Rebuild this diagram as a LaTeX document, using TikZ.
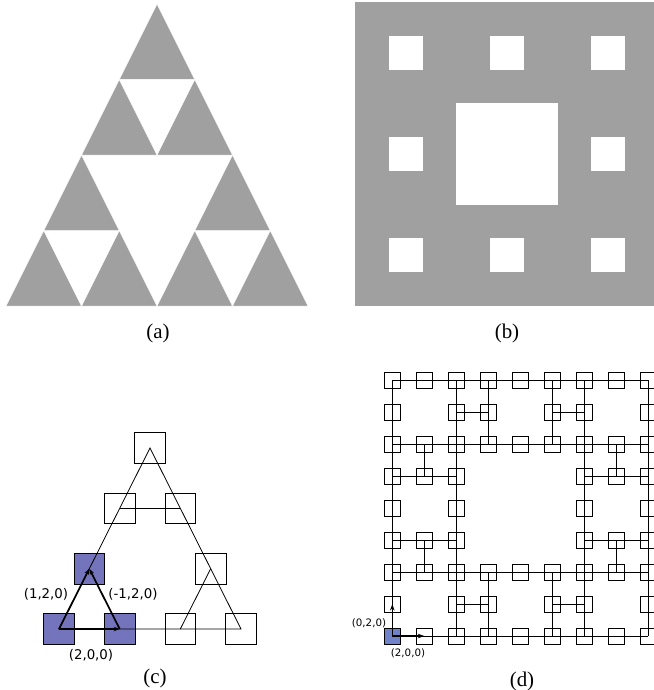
\documentclass[tikz,border=0pt]{standalone}
\usepackage{fontspec}
\setmainfont{Liberation Serif}
\newfontfamily\tagfont{DejaVu Sans}
\usepackage{xcolor}
\usepackage{tikz}
\usetikzlibrary{arrows.meta}

\definecolor{fractalgray}{RGB}{160,160,160}
\definecolor{seedblue}{RGB}{116,116,188}
\definecolor{seedlightblue}{RGB}{112,130,200}

\begin{document}
\begin{tikzpicture}[
  x=1bp, y=-1bp,
  gasket/.style={fill=fractalgray, draw=white, line width=0.5bp},
  carpet/.style={fill=fractalgray},
  hole/.style={fill=white},
  caption/.style={font=\fontsize{21}{24}\selectfont},
  cell/.style={draw, line width=0.9bp, minimum size=30.5bp, inner sep=0pt, outer sep=0pt},
  dcell/.style={draw, line width=0.9bp, minimum size=16bp, inner sep=0pt, outer sep=0pt},
  link/.style={line width=0.8bp},
  move/.style={line width=1.7bp, -{Stealth[length=6bp, width=4.5bp]}},
  dmove/.style={line width=1.2bp, -{Stealth[length=6.5bp, width=4.5bp]}},
  ctag/.style={font=\tagfont\fontsize{13.4}{16}\selectfont, inner sep=1pt},
  dtag/.style={font=\tagfont\fontsize{10.3}{12}\selectfont, inner sep=1pt}
]
\useasboundingbox (0,0) rectangle (654,690);

% (a) gasket
\foreach \a/\b in {0/0,1/0,0/1,2/0,3/0,2/1,0/2,1/2,0/3}
  \filldraw[gasket] ({6+75.5*\a+37.75*\b},{306-75.5*\b}) -- ++(75.5,0) -- ++(-37.75,-75.5) -- cycle;
\node[caption] (cap-a) at (158,333) {(a)};

% (b) carpet
\fill[carpet] (355,2) rectangle (659,306);
\foreach \i in {0,1,2}
  \foreach \j in {0,1,2}
    \fill[hole] ({355+33.78*(1+3*\i)},{2+33.78*(1+3*\j)}) rectangle ++(33.78,33.78);
\fill[hole] (456.3,103.3) rectangle (557.7,204.7);
\node[caption] (cap-b) at (507,333) {(b)};

% (c) gasket graph
\node[cell, fill=seedblue] (t00) at (59,629) {};
\node[cell, fill=seedblue] (t20) at (119.7,629) {};
\node[cell] (t40) at (180.3,629) {};
\node[cell] (t60) at (241,629) {};
\node[cell, fill=seedblue] (t11) at (89.3,568.7) {};
\node[cell] (t51) at (210.7,568.7) {};
\node[cell] (t22) at (119.7,508.3) {};
\node[cell] (t42) at (180.3,508.3) {};
\node[cell] (t33) at (150,448) {};
\draw[link] (t00.center) -- (t33.center) -- (t60.center) -- cycle;
\draw[link] (t22.center) -- (t42.center);
\draw[link] (t40.center) -- (t51.center);
\draw[move] (t00.center) -- (t20.center);
\draw[move] (t00.center) -- (t11.center);
\draw[move] (t20.center) -- (t11.center);
\node[ctag] (tag-c1) at (46,594) {(1,2,0)};
\node[ctag] (tag-c2) at (133,594) {(-1,2,0)};
\node[ctag] (tag-c3) at (91,655) {(2,0,0)};
\node[caption] (cap-c) at (155,678) {(c)};

% (d) carpet graph
\foreach \i in {0,...,8}
  \foreach \j in {0,...,8} {
    \pgfmathtruncatemacro\holeflag{(mod(\i,3)==1 && mod(\j,3)==1) || (floor(\i/3)==1 && floor(\j/3)==1)}
    \pgfmathtruncatemacro\seedflag{(\i==0 && \j==8)}
    \ifnum\holeflag=0
      \ifnum\seedflag=1
        \node[dcell, fill=seedlightblue] (d-\i-\j) at ({392.3+32*\i},{380+32*\j}) {};
      \else
        \node[dcell] (d-\i-\j) at ({392.3+32*\i},{380+32*\j}) {};
      \fi
    \fi
  }
\foreach \r in {0,2,6,8} {
  \draw[link] (d-0-\r.center) -- (d-8-\r.center);
  \draw[link] (d-\r-0.center) -- (d-\r-8.center);
}
\foreach \r in {1,7} {
  \draw[link] (d-2-\r.center) -- (d-3-\r.center);
  \draw[link] (d-5-\r.center) -- (d-6-\r.center);
  \draw[link] (d-\r-2.center) -- (d-\r-3.center);
  \draw[link] (d-\r-5.center) -- (d-\r-6.center);
}
\foreach \r in {3,5} {
  \draw[link] (d-0-\r.center) -- (d-2-\r.center);
  \draw[link] (d-6-\r.center) -- (d-8-\r.center);
  \draw[link] (d-\r-0.center) -- (d-\r-2.center);
  \draw[link] (d-\r-6.center) -- (d-\r-8.center);
}
\draw[dmove] (d-0-8.center) -- (d-1-8.center);
\draw[dmove] (d-0-8.center) -- (d-0-7.center);
\node[dtag] (tag-d1) at (369,623) {(0,2,0)};
\node[dtag] (tag-d2) at (408,653) {(2,0,0)};
\node[caption] (cap-d) at (522,681) {(d)};
\end{tikzpicture}
\end{document}
